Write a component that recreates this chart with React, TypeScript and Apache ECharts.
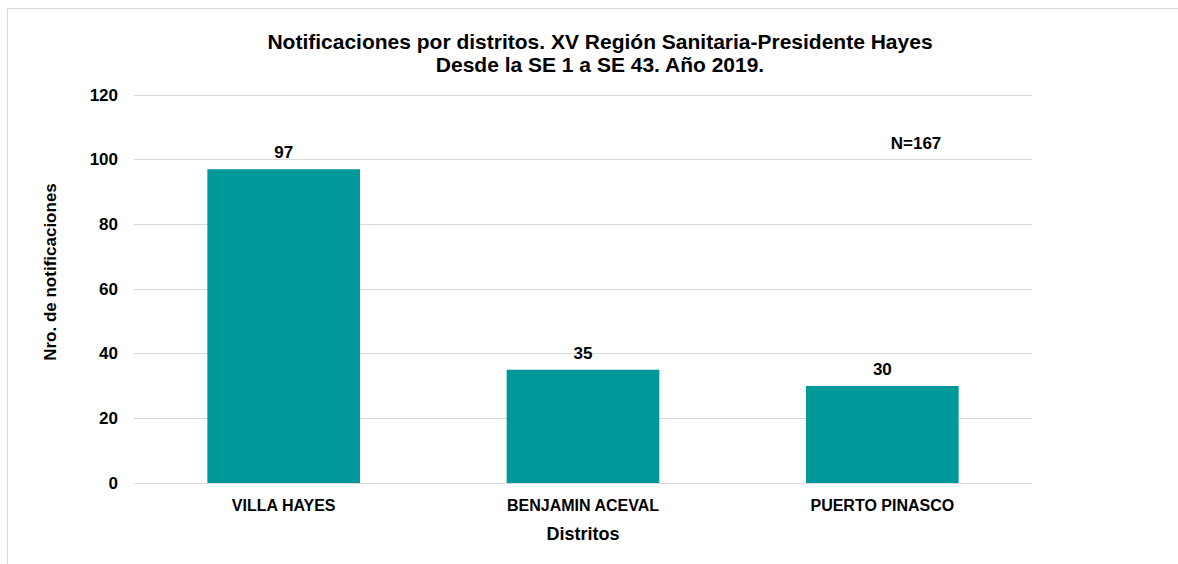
import React, { useEffect, useRef } from "react";
import * as echarts from "echarts";

const categories = ["VILLA HAYES", "BENJAMIN ACEVAL", "PUERTO PINASCO"];
const values = [97, 35, 30];
const titleLines = [
  "Notificaciones por distritos. XV Región Sanitaria-Presidente Hayes",
  "Desde la SE 1 a SE 43. Año 2019.",
];
const yAxisTitle = "Nro. de notificaciones";
const xAxisTitle = "Distritos";
const totalNote = "N=167";

const FONT = "'Liberation Sans', Arial, sans-serif";

export default function App() {
  const ref = useRef<HTMLDivElement>(null);
  useEffect(() => {
    if (!ref.current) return;
    const chart = echarts.init(ref.current, null, { renderer: "svg" });
    chart.setOption({
      animation: false,
      backgroundColor: "transparent",
      title: {
        text: titleLines.join("\n"),
        left: 595,
        textAlign: "center",
        top: 25,
        textStyle: {
          fontFamily: FONT,
          fontWeight: "bold",
          fontSize: 21,
          lineHeight: 23,
          color: "#000",
        },
      },
      grid: { left: 134, right: 146, top: 95, bottom: 81 },
      xAxis: {
        type: "category",
        data: categories,
        name: xAxisTitle,
        nameLocation: "middle",
        nameGap: 42,
        nameTextStyle: { fontFamily: FONT, fontWeight: "bold", fontSize: 18, color: "#000" },
        axisLine: { lineStyle: { color: "#d9d9d9", width: 1 } },
        axisTick: { show: false },
        axisLabel: { fontFamily: FONT, fontWeight: "bold", fontSize: 16, color: "#000", margin: 14 },
      },
      yAxis: {
        type: "value",
        min: 0,
        max: 120,
        interval: 20,
        axisLine: { show: false },
        axisTick: { show: false },
        splitLine: { lineStyle: { color: "#d9d9d9", width: 1 } },
        axisLabel: { fontFamily: FONT, fontWeight: "bold", fontSize: 17, color: "#000", margin: 16 },
      },
      series: [
        {
          type: "bar",
          data: values,
          barWidth: "51%",
          itemStyle: { color: "#009999" },
          label: {
            show: true,
            position: "top",
            distance: 8,
            fontFamily: FONT,
            fontWeight: "bold",
            fontSize: 17,
            color: "#000",
          },
        },
      ],
      graphic: [
        {
          type: "text",
          x: 50,
          y: 272,
          rotation: Math.PI / 2,
          style: {
            text: yAxisTitle,
            fontFamily: FONT,
            fontWeight: "bold",
            fontSize: 17,
            fill: "#000",
            align: "center",
            verticalAlign: "middle",
          },
        },
        {
          type: "text",
          x: 916,
          y: 143,
          style: {
            text: totalNote,
            fontFamily: FONT,
            fontWeight: "bold",
            fontSize: 17,
            fill: "#000",
            align: "center",
            verticalAlign: "middle",
          },
        },
      ],
    });
    return () => chart.dispose();
  }, []);

  return (
    <div style={{ position: "fixed", left: 0, top: 0, width: 1178, height: 564, background: "#fff" }}>
      <div
        style={{
          position: "absolute",
          left: 7,
          top: 8,
          width: 1300,
          height: 700,
          borderLeft: "1px solid #d9d9d9",
          borderTop: "1px solid #d9d9d9",
        }}
      />
      <div ref={ref} style={{ position: "absolute", left: 0, top: 0, width: 1178, height: 564 }} />
    </div>
  );
}
